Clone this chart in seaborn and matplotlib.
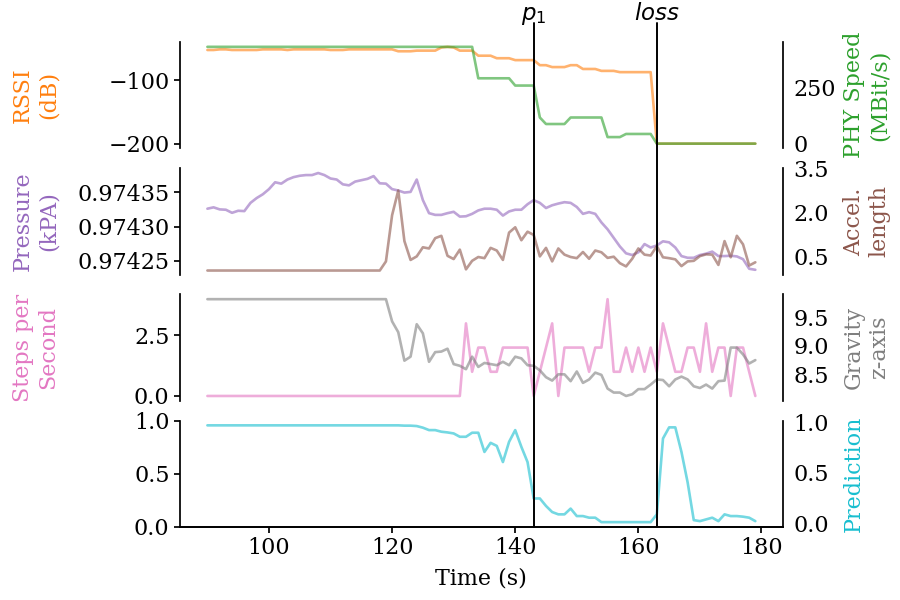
#!/usr/bin/env python3
"""Stacked sensor traces around a Wi-Fi connection loss."""

import matplotlib

matplotlib.use("Agg")
import matplotlib.pyplot as plt
import seaborn as sns
from matplotlib.lines import Line2D
from matplotlib.ticker import FormatStrFormatter
from matplotlib.transforms import blended_transform_factory


TIME = list(range(90, 180))

RSSI = (
    [-52, -52, -51, -51, -52, -52, -52, -52, -52, -51,
     -51, -51, -51, -52, -51, -51, -51, -51, -51, -51,
     -52, -52, -52, -51, -51, -51, -51, -51, -51, -51, -51]
    + [-54, -54, -54, -53, -53, -53, -53]
    + [-48, -47, -48]
    + [-53, -53, -53]
    + [-61, -61, -61]
    + [-65, -65, -65]
    + [-68, -68, -68, -68]
    + [-76, -76]
    + [-79, -79, -79]
    + [-76, -76]
    + [-82, -82, -82]
    + [-85, -85, -85]
    + [-87, -87, -87, -87, -87, -87]
    + [-200] * 17
)

PHY_SPEED = (
    [433.3] * 44 + [292.5] * 6 + [260] * 4 + [117] + [87.8] * 4
    + [117] * 6 + [29.3] * 3 + [43.3] * 5 + [0] * 17
)

PRESSURE = [
    0.974326, 0.974328, 0.974325, 0.9743245, 0.974320, 0.974323, 0.9743225, 0.9743345, 0.9743415, 0.974347,
    0.9743545, 0.9743645, 0.9743625, 0.9743685, 0.974372, 0.974374, 0.974375, 0.974375, 0.974378, 0.974375,
    0.974370, 0.9743685, 0.9743615, 0.974360, 0.9743655, 0.9743675, 0.9743695, 0.9743735, 0.974363, 0.9743625,
    0.9743545, 0.9743525, 0.9743495, 0.9743505, 0.9743685, 0.9743385, 0.9743195, 0.974317, 0.974317, 0.9743195,
    0.9743215, 0.9743145, 0.974315, 0.9743185, 0.9743235, 0.974326, 0.974326, 0.9743245, 0.974316, 0.974322,
    0.9743245, 0.9743245, 0.9743325, 0.9743385, 0.9743345, 0.974327, 0.974331, 0.9743335, 0.9743355, 0.9743345,
    0.9743285, 0.9743185, 0.974321, 0.9743185, 0.974306, 0.974296, 0.9742835, 0.974271, 0.974261, 0.9742585,
    0.9742625, 0.9742745, 0.9742695, 0.9742725, 0.9742785, 0.974277, 0.9742695, 0.974257, 0.9742545, 0.9742545,
    0.9742585, 0.9742605, 0.9742635, 0.974257, 0.974257, 0.9742575, 0.9742565, 0.9742525, 0.9742385, 0.974237,
]

ACCEL = [0.02] * 29 + [
    0.33, 1.90, 2.74, 1.02, 0.38, 0.50, 0.81, 0.77, 1.12, 1.20,
    0.52, 0.41, 0.73, 0.06, 0.35, 0.48, 0.44, 0.79, 0.70, 0.38,
    1.31, 1.49, 1.05, 1.34, 1.23, 0.50, 0.79, 0.33, 0.77, 0.56,
    0.48, 0.44, 0.65, 0.42, 0.70, 0.64, 0.45, 0.49, 0.27, 0.16,
    0.42, 0.77, 0.56, 0.53, 0.85, 0.47, 0.44, 0.40, 0.17, 0.33,
    0.35, 0.51, 0.57, 0.56, 0.21, 1.02, 0.47, 1.20, 0.91, 0.19,
    0.30,
]

STEPS = [0] * 42 + [
    3, 1, 2, 2, 1, 1, 2, 2, 2, 2, 2, 0, 1, 2, 3, 0,
    2, 2, 2, 2, 1, 2, 2, 4, 1, 1, 2, 1, 2, 1, 2, 1,
    3, 2, 1, 1, 2, 2, 1, 3, 1, 2, 2, 0, 2, 2, 1, 0,
]

GRAVITY = [9.82] * 30 + [
    9.43, 9.24, 8.74, 8.81, 9.38, 9.22, 8.72, 8.89, 8.90, 8.95,
    8.68, 8.65, 8.59, 8.81, 8.63, 8.70, 8.68, 8.66, 8.72, 8.66,
    8.81, 8.78, 8.66, 8.65, 8.57, 8.45, 8.39, 8.50, 8.50, 8.38,
    8.55, 8.35, 8.41, 8.53, 8.49, 8.25, 8.18, 8.18, 8.12, 8.15,
    8.24, 8.24, 8.32, 8.41, 8.40, 8.29, 8.41, 8.46, 8.41, 8.29,
    8.26, 8.32, 8.25, 8.38, 8.39, 8.97, 8.97, 8.85, 8.69, 8.75,
]

PREDICTION = [0.97] * 32 + [
    0.967, 0.967, 0.963, 0.947, 0.923, 0.923, 0.907, 0.90,
    0.89, 0.857, 0.857, 0.897, 0.897, 0.707, 0.797, 0.767, 0.607, 0.807,
    0.923, 0.757, 0.607, 0.247, 0.247, 0.173, 0.113, 0.09, 0.09, 0.147,
    0.073, 0.073, 0.057, 0.057, 0.013, 0.013, 0.013, 0.013, 0.013, 0.013,
    0.013, 0.013, 0.013, 0.09, 0.84, 0.95, 0.95, 0.707, 0.407, 0.033,
    0.023, 0.04, 0.057, 0.023, 0.09, 0.073, 0.073, 0.067, 0.057, 0.023,
]

EVENT_TIMES = [143, 163]
EVENT_NAMES = ["$p_1$", "$loss$"]

PAL = sns.color_palette("tab10")
ORANGE, GREEN, PURPLE, BROWN, PINK, GRAY, CYAN = (
    PAL[1], PAL[2], PAL[4], PAL[5], PAL[6], PAL[7], PAL[9])


def trace(ax, values, color):
    sns.lineplot(x=TIME, y=values, ax=ax, color=color, alpha=0.6,
                 linewidth=1.9, estimator=None)


def main() -> None:
    sns.set_style("ticks")
    plt.rcParams["font.family"] = ["DejaVu Serif"]
    plt.rcParams["font.size"] = 16
    plt.rcParams["text.color"] = "black"
    plt.rcParams["axes.labelcolor"] = "black"
    plt.rcParams["axes.edgecolor"] = "black"
    plt.rcParams["axes.linewidth"] = 1.25
    for a in ("xtick", "ytick"):
        plt.rcParams[f"{a}.major.width"] = 1.25
        plt.rcParams[f"{a}.major.size"] = 4
        plt.rcParams[f"{a}.labelsize"] = 16
        plt.rcParams[f"{a}.color"] = "black"
    plt.rcParams["axes.labelsize"] = 16

    fig, axes = plt.subplots(4, 1, figsize=(9, 6), dpi=100, sharex=True)
    fig.subplots_adjust(left=0.2, right=0.8697, top=0.93, bottom=0.1217,
                        hspace=0.185)

    panels = [
        (RSSI, "RSSI\n(dB)", ORANGE, [-200, -100],
         PHY_SPEED, "PHY Speed\n(MBit/s)", GREEN, [0, 250]),
        (PRESSURE, "Pressure\n(kPA)", PURPLE, [0.97425, 0.97430, 0.97435],
         ACCEL, "Accel.\nlength", BROWN, [0.5, 2.0, 3.5]),
        (STEPS, "Steps per\nSecond", PINK, [0.0, 2.5],
         GRAVITY, "Gravity\nz-axis", GRAY, [8.5, 9.0, 9.5]),
        (None, "", None, [0.0, 0.5, 1.0],
         PREDICTION, "Prediction", CYAN, [0.0, 0.5, 1.0]),
    ]

    for i, (ax, spec) in enumerate(zip(axes, panels)):
        lvals, llab, lcol, lticks, rvals, rlab, rcol, rticks = spec
        last = i == len(axes) - 1
        tw = ax.twinx()
        if lvals is not None:
            trace(ax, lvals, lcol)
        else:
            ax.set_ylim(0, 1)
        trace(tw, rvals, rcol)

        ax.set_yticks(lticks)
        tw.set_yticks(rticks)
        if i == 1:
            ax.yaxis.set_major_formatter(FormatStrFormatter("%.5f"))
            tw.set_ylim(-0.12, 3.5)

        ax.set_ylabel(llab, color=lcol if lcol is not None else "black")
        tw.set_ylabel(rlab, color=rcol)
        ax.yaxis.set_label_coords(-0.2, 0.5)
        tw.yaxis.set_label_coords(1.1, 0.5)

        sns.despine(ax=ax, bottom=not last)
        sns.despine(ax=tw, left=True, right=False, bottom=not last)
        if not last:
            ax.tick_params(axis="x", which="both", bottom=False)

    axes[-1].set_xlabel("Time (s)", labelpad=6)
    axes[-1].set_xticks([100, 120, 140, 160, 180])

    # event markers run through every panel and up to the labels on top
    trans = blended_transform_factory(axes[-1].transData, fig.transFigure)
    for t, name in zip(EVENT_TIMES, EVENT_NAMES):
        fig.add_artist(Line2D([t, t], [0.1217, 0.962], transform=trans,
                              color="black", linewidth=1.4))
        fig.text(t, 0.966, name, transform=trans, ha="center",
                 va="baseline", fontsize=16.5)

    fig.savefig("out.png", dpi=100)
    plt.close(fig)


if __name__ == "__main__":
    main()
